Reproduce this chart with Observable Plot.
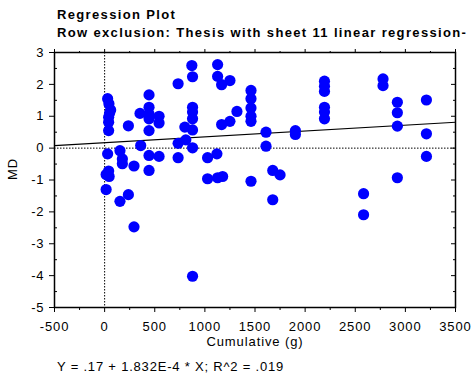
<!DOCTYPE html>
<html><head><meta charset="utf-8">
<script src="https://cdn.jsdelivr.net/npm/d3@7"></script>
<script src="https://cdn.jsdelivr.net/npm/@observablehq/plot@0.6"></script>
<style>
body{margin:0;background:#fff;font-family:"Liberation Sans",Arial,sans-serif;}
.t{padding-left:57px;font-weight:bold;font-size:13px;line-height:18px;color:#000;white-space:nowrap;letter-spacing:1.35px;}
.eq{padding-left:57px;font-size:13px;line-height:18px;white-space:nowrap;letter-spacing:0.8px;}
#wrap{width:473px;height:379px;overflow:hidden;padding-top:6px;box-sizing:border-box;}
</style></head>
<body><div id="wrap">
<div class="t">Regression Plot</div>
<div class="t">Row exclusion: Thesis with sheet 11 linear regression-</div>
<div id="chart"></div>
<div class="eq">Y = .17 + 1.832E-4 * X; R^2 = .019</div>
</div>
<script>
const cumulative = [870,877,733,443,30,43,60,50,40,40,40,237,353,443,443,443,543,543,443,877,877,877,800,877,733,810,877,360,153,177,177,293,443,543,733,443,30,40,15,45,15,237,153,293,877,1127,1127,1167,1250,1460,1460,1460,1460,1460,1320,1167,1250,1610,1610,1903,1903,2193,2193,2193,2193,2193,2193,1027,1120,1027,1127,1177,1460,1677,1750,1677,2777,2777,2920,2920,2920,3210,3210,3210,2920,2583,2583];
const md = [2.59,2.24,2.02,1.67,1.55,1.39,1.2,1.1,0.97,0.81,0.55,0.70,1.09,1.28,1.07,0.92,1.0,0.79,0.55,1.28,1.13,0.92,0.66,0.57,0.15,0.26,0.01,0.08,-0.08,-0.34,-0.49,-0.56,-0.23,-0.26,-0.30,-0.70,-0.18,-0.72,-0.83,-0.89,-1.30,-1.46,-1.67,-2.47,-4.02,2.62,2.25,1.99,2.12,1.81,1.55,1.26,1.0,0.84,1.15,0.74,0.84,0.50,0.06,0.55,0.43,2.10,1.94,1.78,1.28,1.13,0.92,-0.30,-0.18,-0.96,-0.93,-0.89,-1.04,-0.70,-0.84,-1.62,2.17,1.96,1.44,1.11,0.69,1.51,0.45,-0.26,-0.93,-1.43,-2.09];
const fitIntercept = 0.17;
const fitSlope = 1.832e-4;
const xTicks = [-500,0,500,1000,1500,2000,2500,3000,3500];
const xMinor = [-250,250,750,1250,1750,2250,2750,3250];
const yTicks = [-5,-4,-3,-2,-1,0,1,2,3];
const yMinor = [-4.5,-3.5,-2.5,-1.5,-0.5,0.5,1.5,2.5];

const pts = cumulative.map((x,i)=>({x, y: md[i]}));
const fitX = [-500, 3500];
const fit = fitX.map(x=>({x, y: fitIntercept + fitSlope*x}));
const fmt = d => String(d);

const plot = Plot.plot({
  width: 473, height: 316,
  marginLeft: 54, marginRight: 18, marginTop: 10, marginBottom: 51,
  style: {fontFamily: '"Liberation Sans", Arial, sans-serif', fontSize: "13px", letterSpacing: "0.9px", color:"#000", background:"#fff", overflow:"visible"},
  x: {domain: [-500, 3500]},
  y: {domain: [-5, 3]},
  marks: [
    Plot.ruleX([0], {stroke:"#000", strokeWidth:1, strokeDasharray:"1.5,1.5"}),
    Plot.ruleY([0], {stroke:"#000", strokeWidth:1, strokeDasharray:"1.5,1.5"}),
    Plot.line(fit, {x:"x", y:"y", stroke:"#000", strokeWidth:1.2}),
    Plot.dot(pts, {x:"x", y:"y", r:5.6, fill:"#0000ff", stroke:"none"}),
    Plot.frame({stroke:"#000", strokeWidth:1.5}),
    Plot.axisX(xTicks, {anchor:"bottom", tickSize:5, tickPadding:9, tickFormat:fmt, label:null, fontSize:13}),
    Plot.axisX(xMinor, {anchor:"bottom", tickSize:3, tickFormat:()=>"", label:null}),
    Plot.axisX(xTicks, {anchor:"top", tickSize:4, tickFormat:()=>"", label:null}),
    Plot.axisX(xMinor, {anchor:"top", tickSize:2, tickFormat:()=>"", label:null}),
    Plot.axisY(yTicks, {anchor:"left", tickSize:5, tickPadding:5, tickFormat:fmt, label:null, fontSize:13}),
    Plot.axisY(yMinor, {anchor:"left", tickSize:-3, tickFormat:()=>"", label:null}),
    Plot.axisY(yTicks, {anchor:"right", tickSize:-5, tickFormat:()=>"", label:null}),
    Plot.axisY(yMinor, {anchor:"right", tickSize:-3, tickFormat:()=>"", label:null}),
    Plot.text(["Cumulative (g)"], {frameAnchor:"bottom", dy:38, fontSize:13}),
    Plot.text(["MD"], {frameAnchor:"left", dx:-42, rotate:-90, fontSize:13})
  ]
});
document.getElementById("chart").append(plot);
</script>
</body></html>
